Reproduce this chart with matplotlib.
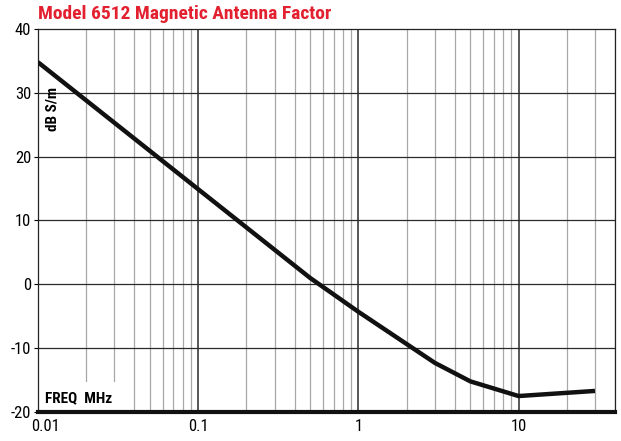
import matplotlib
matplotlib.use("Agg")
import matplotlib.pyplot as plt
import matplotlib.transforms as mtransforms
from matplotlib import font_manager

# antenna factor
freq_mhz = [0.01, 0.1, 0.5, 1, 3, 5, 10, 30]
factor_db = [34.8, 14.9, 1.0, -4.3, -12.3, -15.2, -17.5, -16.7]

x_majors = [0.01, 0.1, 1, 10]
x_labels = ["0.01", "0.1", "1", "10"]
y_majors = [-20, -10, 0, 10, 20, 30, 40]

names = {f.name for f in font_manager.fontManager.ttflist}
narrow = next((n for n in ["Roboto Condensed", "Archivo Narrow", "PT Sans Narrow"] if n in names),
              "DejaVu Sans")
plt.rcParams['font.family'] = [narrow, 'DejaVu Sans']
plt.rcParams['axes.unicode_minus'] = False

W, H = 621, 441
fig = plt.figure(figsize=(W / 100, H / 100), dpi=100)
ax = fig.add_axes([38 / W, 1 - 412 / H, (615 - 38) / W, (412 - 29) / H])

ax.set_xscale('log')
ax.set_xlim(0.01, 40)
ax.set_ylim(-20, 40)

# minor grid (light grey)
for dec in [0.01, 0.1, 1, 10]:
    for k in range(2, 10):
        f = dec * k
        if f > 40:
            break
        if dec == 0.01 and k in (2, 3):
            # these two stop above the FREQ label
            ax.plot([f, f], [-15.1, 40], color='#a8a8a8', lw=0.9, zorder=1)
        else:
            ax.axvline(f, color='#a8a8a8', lw=0.9, zorder=1)

for f in x_majors[1:]:
    ax.axvline(f, color='#2a2a2a', lw=1.1, zorder=2)
for y in y_majors[1:-1]:
    ax.axhline(y, color='#2a2a2a', lw=0.9, zorder=2)

ax.plot(freq_mhz, factor_db, color='#111111', lw=3.2, solid_capstyle='butt', zorder=5)

ax.set_xticks(x_majors)
ax.set_xticklabels(x_labels)
ax.xaxis.set_minor_locator(matplotlib.ticker.NullLocator())
ax.set_yticks(y_majors)
ax.tick_params(axis='x', length=0, pad=5, labelsize=12)
ax.tick_params(axis='y', length=3, width=0.8, pad=2, labelsize=12)

# first x label sits a bit right of the axis corner
first = ax.get_xticklabels()[0]
first.set_transform(first.get_transform() + mtransforms.ScaledTranslation(0.08, 0, fig.dpi_scale_trans))

for s in ['top', 'right', 'left']:
    ax.spines[s].set_linewidth(0.9)
    ax.spines[s].set_color('#222222')
ax.spines['bottom'].set_linewidth(3)
ax.spines['bottom'].set_color('#111111')
ax.spines['bottom'].set_zorder(6)

ax.text(0.01224, 27.4, "dB S/m", rotation=90, ha='center', va='center',
        fontsize=11, fontweight='bold')
ax.text(0.0111, -17.8, "FREQ  MHz", ha='left', va='center',
        fontsize=11, fontweight='bold')

fig.text(38 / W, 1 - 14 / H, "Model 6512 Magnetic Antenna Factor", color='#e2202f',
         fontsize=14, fontweight='bold', ha='left', va='center')

fig.savefig("out.png", dpi=100)
